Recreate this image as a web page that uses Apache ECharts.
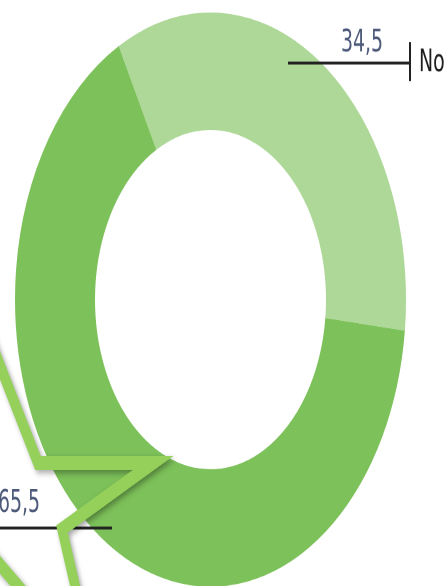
<!DOCTYPE html>
<html><head><meta charset="utf-8">
<script src="https://cdn.jsdelivr.net/npm/echarts@6/dist/echarts.min.js"></script>
<style>
html,body{margin:0;padding:0;width:445px;height:586px;overflow:hidden;background:#fff;}
#c{width:445px;height:399px;transform:scaleY(1.4687);transform-origin:0 0;}
</style></head><body><div id="c"></div>
<script>
// Data
const categories = ['No', 'Sì'];
const values = [34.5, 65.5];
const sliceColors = ['#AED898', '#7DC15A'];

const S = 1.4687; // vertical stretch of the whole picture
const fmt = v => String(v).replace('.', ',');
const FONT = '"DejaVu Sans Condensed", "Liberation Sans Narrow", "DejaVu Sans", sans-serif';
const NAME_FONT = '"Liberation Sans Narrow", "DejaVu Sans Condensed", sans-serif';

// label placement (screen px, y in final stretched picture)
const labelPos = [
  { line: [[288, 63], [410, 63]], text: [362, 43.5] },
  { line: [[112, 528], [-10, 528]], text: [19, 503.5] }
];

const chart = echarts.init(document.getElementById('c'), null, { renderer: 'canvas', devicePixelRatio: 2 });

const starPts = [[-45, 250], [38, 463], [153, 463], [62, 529], [96, 677], [-40, 518]]
  .map(p => [p[0], p[1] / S]);

const leaderLines = labelPos.map(p => ({
  type: 'line', z: 50,
  shape: { x1: p.line[0][0], y1: p.line[0][1] / S, x2: p.line[1][0], y2: p.line[1][1] / S },
  style: { stroke: '#222', lineWidth: 2 }
}));

chart.setOption({
  animation: false,
  backgroundColor: '#fff',
  series: [{
    type: 'pie',
    center: [210.5, 204],
    radius: [115.5, 195.5],
    startAngle: 118,
    clockwise: true,
    avoidLabelOverlap: false,
    emphasis: { disabled: true },
    itemStyle: { borderWidth: 0 },
    label: {
      show: true,
      formatter: p => fmt(p.value),
      fontFamily: FONT,
      fontSize: 21,
      color: '#4d5a7a'
    },
    labelLine: { show: false },
    labelLayout: function (params) {
      const p = labelPos[params.dataIndex];
      return { x: p.text[0], y: p.text[1] / S, align: 'center', verticalAlign: 'middle' };
    },
    data: categories.map((c, i) => ({ name: c, value: values[i], itemStyle: { color: sliceColors[i] } }))
  }],
  graphic: leaderLines.concat([
    { type: 'line', z: 50, shape: { x1: 410, y1: 42 / S, x2: 410, y2: 81 / S }, style: { stroke: '#222', lineWidth: 2 } },
    { type: 'text', z: 50, x: 419, y: 63.5 / S, style: { text: categories[0], font: '21px ' + NAME_FONT, fill: '#1e1e1e', verticalAlign: 'middle', align: 'left' } },
    { type: 'polyline', z: 100, shape: { points: starPts },
      style: { stroke: '#95D15A', fill: null, lineWidth: 9.5, lineJoin: 'miter', miterLimit: 10, lineCap: 'butt',
        shadowBlur: 4, shadowColor: 'rgba(0,0,0,0.35)', shadowOffsetX: 2, shadowOffsetY: 2 } }
  ])
});
</script></body></html>
